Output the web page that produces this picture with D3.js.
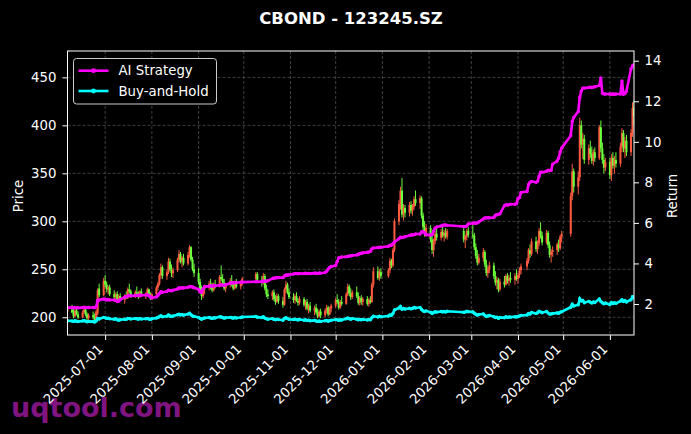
<!DOCTYPE html>
<html>
<head>
    <title></title>
    <script src='https://d3js.org/d3.v7.min.js'></script>
    <style>
      body {margin: 0; background: black;}
      text {font-family: 'DejaVu Sans', sans-serif; fill: white;}
    </style>
</head>
<body onload='init()'>
<svg width=691 height=434>
</svg>
<script>
// trading calendar (weekdays minus exchange holidays)
var firstDay = "2025-06-06";
var lastDay = "2026-06-17";
var holidays = ["2025-10-01","2025-10-02","2025-10-03","2025-10-06","2025-10-07","2025-10-08",
  "2026-01-01","2026-01-02","2026-02-16","2026-02-17","2026-02-18","2026-02-19","2026-02-20",
  "2026-02-23","2026-04-06","2026-05-01","2026-05-04","2026-05-05"];

// daily price [open, high, low, close], one line per week
var candles = [
[206,212,203,208],
[208,213,204,205],[205,210,199,201],[201,209,200,207],[207,211,202,203],[203,206,198,200],
[200,207,199,205],[205,210,203,208],[208,209,201,203],[203,205,197,199],[199,204,196,202],
[202,206,198,200],[200,204,195,197],[197,208,196,206],[204,230,202,228],[230,235,221,223],
[223,241,222,238],[238,244,231,234],[234,237,226,229],[229,233,224,231],[231,234,222,224],
[224,228,219,221],[221,226,218,224],[224,227,218,219],[219,224,216,222],[222,225,217,218],
[218,224,214,222],[222,227,219,220],[220,231,219,229],[229,235,225,227],[227,229,220,223],
[223,228,220,226],[226,232,223,224],[224,227,219,221],[221,228,220,227],[227,230,222,223],
[223,226,219,225],[225,231,223,229],[229,230,222,223],[223,226,218,220],[220,225,218,224],
[224,233,222,231],[231,237,228,235],[235,246,233,244],[244,256,240,252],[252,254,240,243],
[243,250,239,247],[247,262,245,258],[258,261,248,250],[250,255,242,246],[246,252,241,249],
[249,262,247,260],[260,270,257,266],[266,268,256,258],[258,264,252,262],[262,266,254,256],
[256,268,254,265],[266,275,262,273],[273,274,258,260],[260,263,248,250],[250,256,242,246],
[246,251,234,237],[237,240,225,228],[228,233,218,222],[222,231,220,229],[229,234,224,231],
[231,238,228,235],[235,240,229,232],[232,236,226,228],[228,236,227,234],[234,239,230,232],
[232,244,231,242],[242,254,238,240],[240,245,233,236],[236,240,228,230],[230,236,226,234],
[234,241,231,238],[238,244,232,234],[234,237,228,230],[230,238,229,236],[236,240,230,232],
[232,238,229,236],[236,242,233,240],
[240,247,238,245],[245,247,237,239],
[239,243,232,236],[236,246,234,243],[243,245,228,230],[230,234,221,224],[224,229,219,222],
[222,228,218,226],[226,229,217,219],[219,223,213,216],[216,225,215,222],[222,224,214,217],
[217,221,210,213],[213,231,212,229],[229,238,225,234],[234,236,224,226],[226,230,219,221],
[221,225,215,218],[218,224,214,222],[222,226,216,217],[217,220,212,215],[215,222,213,219],
[219,221,211,213],[213,218,208,216],[216,219,207,209],[209,214,204,212],[212,216,205,207],
[207,212,202,210],[210,214,203,205],[205,209,199,201],[201,208,200,206],[206,209,199,202],
[202,209,200,207],[207,213,204,210],[210,212,201,203],[203,211,202,209],[209,214,205,212],
[212,220,210,218],[218,224,214,216],[216,219,208,210],[210,218,209,216],[216,222,212,214],
[214,226,213,224],[224,235,222,232],[232,234,222,225],[225,230,218,221],[221,228,219,226],
[226,232,220,222],[222,226,213,215],[215,222,212,220],[220,223,213,216],[216,221,212,219],
[219,222,212,214],[214,220,211,218],[218,222,214,216],[216,236,215,234],[234,252,231,248],
[248,253,239,241],[241,250,238,247],[247,251,240,243],
[243,251,241,249],[249,262,246,259],[259,261,251,254],[254,272,252,270],[270,303,268,300],
[300,322,296,318],[318,336,312,332],[332,345,304,307],[307,318,301,314],[314,317,304,309],
[309,320,305,317],[317,321,308,311],[311,318,306,315],[315,326,312,323],[323,332,316,319],
[319,327,313,324],[324,326,303,306],[306,309,291,294],[294,300,284,288],[288,297,284,293],
[293,296,278,281],[281,286,266,270],[270,282,263,279],[279,290,276,287],[287,293,280,283],
[283,292,280,289],[289,296,283,285],[285,291,279,288],[288,293,282,284],[284,292,281,290],
[290,293,278,281],[281,286,272,284],[284,292,280,290],[290,294,283,286],
[286,296,282,285],[285,288,270,273],[273,277,261,264],[264,270,254,257],[257,266,255,262],
[262,272,258,268],[268,270,252,255],[255,260,243,246],[246,253,241,250],[250,258,246,254],
[254,257,240,243],[243,248,233,236],[236,242,229,239],[239,241,226,229],[229,240,227,237],
[237,243,231,234],[234,245,233,243],[243,246,235,238],[238,244,233,241],[241,247,236,239],
[239,246,234,243],[243,250,238,240],[240,246,235,244],[244,252,241,249],[249,256,245,253],
[253,262,249,259],[259,272,256,270],[270,276,262,266],[266,282,264,279],
[279,284,268,271],[271,280,266,277],[277,293,274,290],[290,299,282,285],[285,289,275,278],
[278,291,276,288],[288,290,272,275],[275,279,262,265],[265,271,257,268],[268,274,263,270],
[270,278,265,276],[276,281,268,272],[272,286,270,284],[284,290,278,287],
[287,330,284,326],[326,360,322,352],[352,355,330,336],
[336,352,328,346],[346,408,342,400],[400,405,376,380],[380,392,365,386],[386,390,360,364],
[364,380,359,376],[376,384,366,370],[370,378,360,363],[363,375,358,372],[372,377,362,366],
[366,400,364,398],[398,405,372,376],[376,382,360,364],[364,370,350,356],[356,366,352,362],
[362,366,344,348],[348,370,342,366],[366,372,355,358],[358,368,350,364],[364,372,356,360],
[360,382,357,378],[378,397,372,392],[392,395,372,376],[376,388,366,384],[384,390,368,372],
[372,396,368,392],[392,424,388,418],[418,426,400,410]
];

// cumulative return of the strategy
var aiReturn = [
1.82,
1.82,1.81,1.83,1.82,1.81, 1.82,1.84,1.83,1.82,1.83, 1.83,1.82,1.86,2.18,2.20,
2.25,2.23,2.20,2.22,2.20, 2.20,2.18,2.12,2.14,2.22, 2.35,2.36,2.40,2.42,2.40,
2.42,2.43,2.42,2.44,2.43, 2.44,2.45,2.42,2.35,2.30, 2.35,2.42,2.52,2.60,2.58,
2.62,2.68,2.66,2.65,2.68, 2.74,2.80,2.78,2.80,2.79, 2.82,2.86,2.85,2.84,2.80,
2.72,2.60,2.58,2.75,2.85, 2.88,2.90,2.88,2.90,2.90, 2.92,2.95,2.93,2.92,2.95,
3.02,3.05,3.04,3.06,3.05, 3.07,3.08, 3.10,3.10,
3.10,3.14,3.12,3.12,3.15, 3.25,3.28,3.28,3.30,3.30, 3.30,3.38,3.43,3.42,3.44,
3.48,3.50,3.50,3.49,3.50, 3.50,3.52,3.50,3.51,3.50, 3.52,3.52,3.50,3.53,3.52,
3.55,3.62,3.72,3.80,3.85, 3.90,4.10,4.28,4.30,4.32, 4.33,4.35,4.36,4.38,4.40,
4.42,4.45,4.48,4.50,4.52, 4.55,4.56,4.60,4.72,4.76, 4.78,4.80,4.80,
4.85,4.90,4.90,4.98,5.06, 5.22,5.30,5.28,5.30,5.32, 5.38,5.40,5.40,5.42,5.45,
5.45,5.55,5.56,5.50,5.42, 5.40,5.42,5.60,5.75,5.80, 5.85,5.88,5.90,5.90,5.88,
5.82,5.82,5.85,5.95,
5.98,6.00,5.98,6.00,6.05, 6.20,6.25,6.24,6.26,6.25, 6.27,6.38,6.40,6.42,6.45,
6.85,6.90,6.88,6.90,6.92, 6.92,6.95,7.20,7.25,7.50, 7.55,7.90,8.00,8.05,
8.00,8.05,8.30,8.50,8.50, 8.55,8.60,8.58,8.60,8.90, 9.05,9.20,9.50,9.70,
10.30,11.00,11.20, 11.50,12.20,12.50,12.65,12.65, 12.68,12.70,12.68,12.70,12.72,
12.78,13.15,12.40,12.36,12.36, 12.36,12.35,12.36,12.35,12.36, 12.36,13.00,12.35,12.38,12.50,
13.60,13.75,13.80
];

// cumulative return of holding the bond
var bhReturn = [
1.17,
1.16,1.14,1.17,1.15,1.13, 1.16,1.18,1.15,1.12,1.14, 1.13,1.11,1.16,1.29,1.26,
1.34,1.32,1.29,1.30,1.27, 1.25,1.27,1.22,1.20,1.22, 1.25,1.24,1.29,1.28,1.26,
1.28,1.27,1.25,1.28,1.26, 1.27,1.29,1.26,1.24,1.27, 1.31,1.33,1.38,1.42,1.37,
1.40,1.46,1.41,1.39,1.41, 1.47,1.50,1.46,1.48,1.45, 1.50,1.54,1.47,1.41,1.39,
1.34,1.29,1.25,1.29,1.31, 1.33,1.31,1.29,1.32,1.31, 1.37,1.36,1.33,1.30,1.32,
1.34,1.32,1.30,1.33,1.31, 1.33,1.36, 1.38,1.35,
1.33,1.37,1.30,1.27,1.25, 1.28,1.24,1.22,1.25,1.23, 1.20,1.29,1.32,1.28,1.25,
1.23,1.25,1.23,1.21,1.24, 1.20,1.22,1.18,1.20,1.17, 1.19,1.16,1.14,1.16,1.14,
1.17,1.19,1.15,1.18,1.20, 1.23,1.22,1.19,1.22,1.21, 1.27,1.31,1.27,1.25,1.28,
1.25,1.22,1.24,1.22,1.24, 1.21,1.23,1.22,1.32,1.40, 1.36,1.40,1.37,
1.41,1.46,1.44,1.53,1.70, 1.80,1.88,1.74,1.78,1.75, 1.79,1.76,1.78,1.83,1.80,
1.83,1.73,1.66,1.63,1.66, 1.59,1.53,1.58,1.62,1.60, 1.63,1.61,1.63,1.60,1.64,
1.59,1.60,1.64,1.62,
1.61,1.54,1.49,1.45,1.48, 1.51,1.44,1.39,1.41,1.44, 1.37,1.33,1.35,1.29,1.34,
1.32,1.37,1.34,1.36,1.35, 1.37,1.36,1.38,1.41,1.43, 1.46,1.53,1.50,1.58,
1.53,1.57,1.64,1.61,1.57, 1.63,1.55,1.50,1.51,1.53, 1.56,1.54,1.60,1.62,
1.84,1.99,1.90, 1.96,2.26,2.15,2.18,2.06, 2.13,2.09,2.05,2.10,2.07,
2.25,2.12,2.06,2.01,2.05, 1.97,2.07,2.02,2.06,2.03, 2.14,2.21,2.12,2.17,2.10,
2.21,2.36,2.32
];

var priceTicks = [200,250,300,350,400,450];
var returnTicks = [2,4,6,8,10,12,14];
var monthTicks = ["2025-07-01","2025-08-01","2025-09-01","2025-10-01","2025-11-01","2025-12-01",
  "2026-01-01","2026-02-01","2026-03-01","2026-04-01","2026-05-01","2026-06-01"];

function init() {
var svg = d3.select("svg");
var left = 67.5, right = 634, top = 51, bottom = 335;
var parse = d3.utcParse("%Y-%m-%d");
var fmt = d3.utcFormat("%Y-%m-%d");

var days = d3.utcDays(parse(firstDay), d3.utcDay.offset(parse(lastDay), 1))
  .filter(function(d) { return d.getUTCDay() % 6 != 0 && holidays.indexOf(fmt(d)) < 0; });
var n = Math.min(days.length, candles.length, aiReturn.length, bhReturn.length);
days = days.slice(0, n);

var x = d3.scaleUtc().domain([days[0], days[n-1]]).range([left, right]);
var yPrice = d3.scaleLinear().domain([181.5, 477.5]).range([bottom, top]);
var yRet = d3.scaleLinear().domain([0.47, 14.48]).range([bottom, top]);

svg.append("rect").attr("width", 691).attr("height", 434).attr("fill", "black");

// watermark
svg.append("text")
  .attr("x", 11).attr("y", 417)
  .attr("font-size", 27).attr("font-weight", "bold")
  .style("fill", "#801480")
  .text("uqtool.com");

svg.append("clipPath").attr("id", "plot")
  .append("rect").attr("x", left).attr("y", top).attr("width", right-left).attr("height", bottom-top);

// grid
svg.append("g").selectAll("line")
  .data(priceTicks)
  .enter().append("line")
  .attr("x1", left).attr("x2", right)
  .attr("y1", function(d) { return yPrice(d); })
  .attr("y2", function(d) { return yPrice(d); })
  .attr("stroke", "#5a5a5a").attr("stroke-width", 0.7).attr("stroke-dasharray", "3,2");
svg.append("g").selectAll("line")
  .data(monthTicks)
  .enter().append("line")
  .attr("y1", top).attr("y2", bottom)
  .attr("x1", function(d) { return x(parse(d)); })
  .attr("x2", function(d) { return x(parse(d)); })
  .attr("stroke", "#5a5a5a").attr("stroke-width", 0.7).attr("stroke-dasharray", "3,2");

var plot = svg.append("g").attr("clip-path", "url(#plot)");

// candles: red up, green down
var up = "#ff5a40", down = "#6cff3c";
var c = plot.append("g").selectAll("g")
  .data(candles.slice(0, n))
  .enter().append("g")
  .attr("stroke", function(d) { return d[3] >= d[0] ? up : down; })
  .attr("fill", function(d) { return d[3] >= d[0] ? up : down; });
c.append("line")
  .attr("x1", function(d, i) { return x(days[i]); })
  .attr("x2", function(d, i) { return x(days[i]); })
  .attr("y1", function(d) { return yPrice(d[1]); })
  .attr("y2", function(d) { return yPrice(d[2]); })
  .attr("stroke-width", 1);
c.append("rect")
  .attr("stroke", "none")
  .attr("x", function(d, i) { return x(days[i]) - 1; })
  .attr("width", 2)
  .attr("y", function(d) { return yPrice(Math.max(d[0], d[3])); })
  .attr("height", function(d) { return Math.max(1, Math.abs(yPrice(d[0]) - yPrice(d[3]))); });

// return lines with markers
function drawLine(vals, color) {
  var line = d3.line()
    .x(function(d, i) { return x(days[i]); })
    .y(function(d) { return yRet(d); });
  plot.append("path")
    .attr("d", line(vals.slice(0, n)))
    .attr("fill", "none").attr("stroke", color).attr("stroke-width", 2.6);
  plot.append("g").selectAll("circle")
    .data(vals.slice(0, n))
    .enter().append("circle")
    .attr("cx", function(d, i) { return x(days[i]); })
    .attr("cy", function(d) { return yRet(d); })
    .attr("r", 1.7)
    .attr("fill", color);
}
drawLine(bhReturn, "#00ffff");
drawLine(aiReturn, "#ff00ff");

// frame
svg.append("rect")
  .attr("x", left).attr("y", top).attr("width", right-left).attr("height", bottom-top)
  .attr("fill", "none").attr("stroke", "white").attr("stroke-width", 1);

// left axis
svg.append("g")
  .attr("transform", "translate(" + left + ",0)")
  .call(d3.axisLeft(yPrice).tickValues(priceTicks).tickSize(5).tickPadding(6))
  .attr("color", "white").attr("font-size", 13.3).attr("font-family", "DejaVu Sans")
  .call(function(g) { g.select(".domain").remove(); });

// right axis
svg.append("g")
  .attr("transform", "translate(" + right + ",0)")
  .call(d3.axisRight(yRet).tickValues(returnTicks).tickSize(5).tickPadding(5.5))
  .attr("color", "white").attr("font-size", 13.3).attr("font-family", "DejaVu Sans")
  .call(function(g) { g.select(".domain").remove(); });

// date axis
svg.append("g")
  .attr("transform", "translate(0," + bottom + ")")
  .call(d3.axisBottom(x).tickValues(monthTicks.map(parse)).tickFormat(fmt).tickSize(5))
  .attr("color", "white").attr("font-size", 13.3).attr("font-family", "DejaVu Sans")
  .call(function(g) { g.select(".domain").remove(); })
  .selectAll("text")
    .attr("x", 0).attr("y", 0).attr("dy", 0)
    .attr("transform", "translate(-2,15) rotate(-45)")
    .style("text-anchor", "end");

// axis titles
svg.append("text")
  .attr("transform", "translate(22.5,196) rotate(-90)")
  .attr("font-size", 13.3).style("text-anchor", "middle")
  .text("Price");
svg.append("text")
  .attr("transform", "translate(677,196) rotate(-90)")
  .attr("font-size", 13.3).style("text-anchor", "middle")
  .text("Return");

// title
svg.append("text")
  .attr("x", 351).attr("y", 24)
  .attr("font-size", 16.5).attr("font-weight", "bold")
  .style("text-anchor", "middle")
  .text("CBOND - 123245.SZ");

// legend
var lg = svg.append("g");
lg.append("rect")
  .attr("x", 73.5).attr("y", 58.5).attr("width", 143).attr("height", 45.5).attr("rx", 3)
  .attr("fill", "black").attr("stroke", "#cccccc").attr("stroke-width", 1);
var entries = [["AI Strategy", "#ff00ff", 70.7], ["Buy-and-Hold", "#00ffff", 91]];
entries.forEach(function(e) {
  lg.append("line").attr("x1", 78.5).attr("x2", 108.5).attr("y1", e[2]).attr("y2", e[2])
    .attr("stroke", e[1]).attr("stroke-width", 2.6);
  lg.append("circle").attr("cx", 93.5).attr("cy", e[2]).attr("r", 2.4).attr("fill", e[1]);
  lg.append("text").attr("x", 118.5).attr("y", e[2]).attr("dy", "0.35em")
    .attr("font-size", 13.3).text(e[0]);
});
}
</script>
</body>
</html>
